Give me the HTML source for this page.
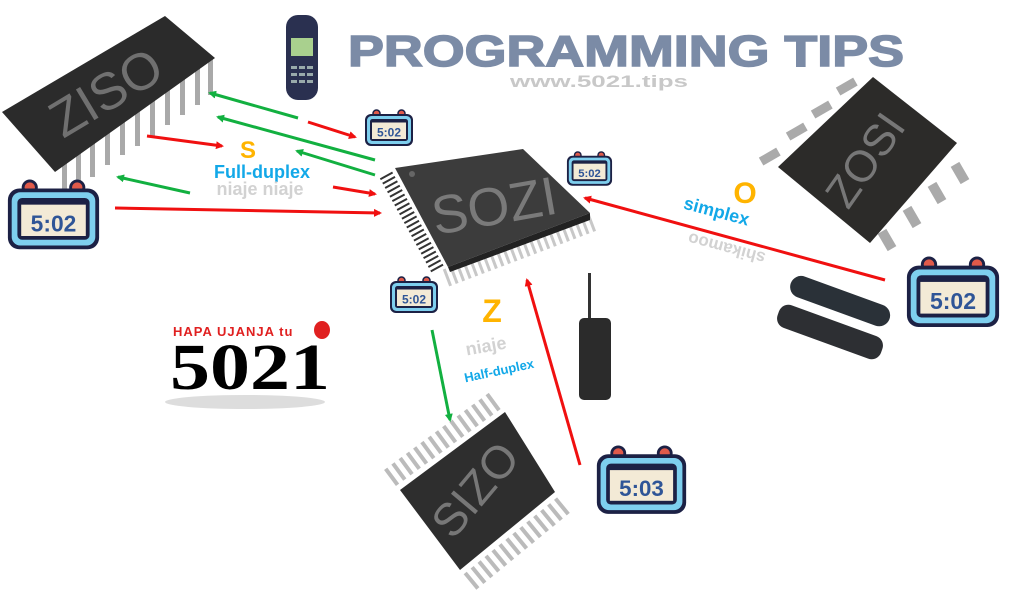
<!DOCTYPE html>
<html><head><meta charset="utf-8"><style>
html,body{margin:0;padding:0;background:#fff;}
svg{display:block;font-family:"Liberation Sans",sans-serif;}
</style></head><body>
<svg width="1024" height="615" viewBox="0 0 1024 615" xmlns="http://www.w3.org/2000/svg">
<defs>
<g id="clk">
<circle cx="25" cy="9" r="7" fill="#e05a4a" stroke="#1c2145" stroke-width="3"/>
<circle cx="75" cy="9" r="7" fill="#e05a4a" stroke="#1c2145" stroke-width="3"/>
<rect x="2" y="10" width="96" height="64" rx="12" fill="#1c2145"/>
<rect x="6" y="14" width="88" height="56" rx="9" fill="#7ecfee"/>
<rect x="12" y="20" width="76" height="44" rx="5" fill="#1c2145"/>
<rect x="16" y="27" width="68" height="33" fill="#f3ead6"/>
</g>
<marker id="ar" markerWidth="8" markerHeight="8" refX="6" refY="4" orient="auto" markerUnits="userSpaceOnUse"><path d="M0,0 L8,4 L0,8 z" fill="#f01010"/></marker>
<marker id="ag" markerWidth="8" markerHeight="8" refX="6" refY="4" orient="auto" markerUnits="userSpaceOnUse"><path d="M0,0 L8,4 L0,8 z" fill="#12b040"/></marker>
</defs>

<!-- title -->
<text x="348" y="66" font-size="44" font-weight="bold" fill="#7b8ba6" textLength="556" lengthAdjust="spacingAndGlyphs" stroke="#7b8ba6" stroke-width="1.5">PROGRAMMING TIPS</text>
<text x="510" y="87" font-size="17" font-weight="bold" fill="#c8c8c8" textLength="178" lengthAdjust="spacingAndGlyphs">www.5021.tips</text>

<!-- nokia -->
<rect x="286" y="15" width="32" height="85" rx="12" fill="#2a3050"/>
<rect x="291" y="38" width="22" height="18" fill="#a9d08e"/>
<g fill="#9aa">
<rect x="291" y="66" width="6" height="3"/><rect x="299" y="66" width="6" height="3"/><rect x="307" y="66" width="6" height="3"/>
<rect x="291" y="73" width="6" height="3"/><rect x="299" y="73" width="6" height="3"/><rect x="307" y="73" width="6" height="3"/>
<rect x="291" y="80" width="6" height="3"/><rect x="299" y="80" width="6" height="3"/><rect x="307" y="80" width="6" height="3"/>
</g>

<!-- DIP chip ZISO -->
<g fill="#a9a9a9">
<rect x="62" y="160" width="5" height="30"/><rect x="76" y="150" width="5" height="35"/><rect x="90" y="140" width="5" height="37"/>
<rect x="105" y="130" width="5" height="35"/><rect x="120" y="119" width="5" height="36"/><rect x="135" y="108" width="5" height="38"/>
<rect x="150" y="98" width="5" height="38"/><rect x="165" y="88" width="5" height="37"/><rect x="180" y="78" width="5" height="37"/>
<rect x="195" y="68" width="5" height="37"/><rect x="208" y="58" width="5" height="37"/>
</g>
<polygon points="2,112 165,16 215,58 55,172" fill="#2b2b2b"/>
<text x="108" y="96" transform="rotate(-31 108 96)" text-anchor="middle" dominant-baseline="middle" font-size="52" fill="#707070">ZISO</text>

<!-- center chip SOZI -->
<line x1="446" y1="278" x2="594" y2="222" stroke="#c8c8c8" stroke-width="18" stroke-dasharray="3 4"/>
<line x1="386" y1="175" x2="438" y2="270" stroke="#333" stroke-width="14" stroke-dasharray="2 3"/>
<polygon points="395,168 523,149 590,213 448,267" fill="#3c3c3c"/>
<polygon points="448,267 590,213 590,220 450,272" fill="#222"/>
<circle cx="412" cy="174" r="3" fill="#666"/>
<text x="495" y="210" transform="rotate(-10 495 210)" text-anchor="middle" dominant-baseline="middle" font-size="54" fill="#7a7a7a">SOZI</text>

<!-- ZOSI chip -->
<g fill="#aaa">
<rect x="760" y="152" width="20" height="9" transform="rotate(-30 770 157)"/>
<rect x="787" y="127" width="20" height="9" transform="rotate(-30 797 132)"/>
<rect x="812" y="105" width="20" height="9" transform="rotate(-30 822 110)"/>
<rect x="837" y="82" width="20" height="9" transform="rotate(-30 847 87)"/>
<rect x="955" y="163" width="10" height="20" transform="rotate(-30 960 173)"/>
<rect x="932" y="183" width="10" height="20" transform="rotate(-30 937 193)"/>
<rect x="907" y="207" width="10" height="20" transform="rotate(-30 912 217)"/>
<rect x="882" y="230" width="10" height="20" transform="rotate(-30 887 240)"/>
</g>
<polygon points="873,77 957,143 870,243 778,167" fill="#2c2b29"/>
<text x="868" y="162" transform="rotate(-55 868 162)" text-anchor="middle" dominant-baseline="middle" font-size="44" fill="#777">ZOSI</text>

<!-- remotes -->
<rect x="788" y="290" width="105" height="22" rx="11" fill="#2a3138" transform="rotate(20 840 300)"/>
<rect x="775" y="320" width="110" height="24" rx="10" fill="#2d2f33" transform="rotate(20 830 332)"/>

<!-- SIZO chip -->
<line x1="390" y1="478" x2="496" y2="400" stroke="#bbb" stroke-width="20" stroke-dasharray="4 5"/>
<line x1="470" y1="582" x2="566" y2="503" stroke="#bbb" stroke-width="20" stroke-dasharray="4 5"/>
<polygon points="505,412 555,492 460,570 400,490" fill="#2e2e2e"/>
<text x="478" y="492" transform="rotate(-50 478 492)" text-anchor="middle" dominant-baseline="middle" font-size="46" fill="#777">SIZO</text>

<!-- walkie -->
<rect x="588" y="273" width="3" height="50" fill="#333"/>
<rect x="579" y="318" width="32" height="82" rx="5" fill="#2b2b2b"/>

<!-- arrows -->
<g stroke-width="3" fill="none">
<line x1="308" y1="122" x2="355" y2="137" stroke="#f01010" marker-end="url(#ar)"/>
<line x1="147" y1="136" x2="222" y2="146" stroke="#f01010" marker-end="url(#ar)"/>
<line x1="333" y1="187" x2="375" y2="194" stroke="#f01010" marker-end="url(#ar)"/>
<line x1="115" y1="208" x2="380" y2="213" stroke="#f01010" marker-end="url(#ar)"/>
<line x1="885" y1="280" x2="585" y2="198" stroke="#f01010" marker-end="url(#ar)"/>
<line x1="580" y1="465" x2="527" y2="280" stroke="#f01010" marker-end="url(#ar)"/>
<line x1="298" y1="118" x2="210" y2="93" stroke="#12b040" marker-end="url(#ag)"/>
<line x1="375" y1="160" x2="218" y2="117" stroke="#12b040" marker-end="url(#ag)"/>
<line x1="375" y1="175" x2="297" y2="151" stroke="#12b040" marker-end="url(#ag)"/>
<line x1="190" y1="193" x2="118" y2="177" stroke="#12b040" marker-end="url(#ag)"/>
<line x1="432" y1="330" x2="450" y2="420" stroke="#12b040" marker-end="url(#ag)"/>
</g>

<!-- labels -->
<text x="248" y="158" text-anchor="middle" font-size="24" font-weight="bold" fill="#ffb400">S</text>
<text x="262" y="178" text-anchor="middle" font-size="18" font-weight="bold" fill="#12a8e8">Full-duplex</text>
<text x="260" y="195" text-anchor="middle" font-size="18" font-weight="bold" fill="#d2d2d2">niaje niaje</text>
<text x="745" y="203" text-anchor="middle" font-size="30" font-weight="bold" fill="#ffb400">O</text>
<text x="715" y="217" transform="rotate(15 715 217)" text-anchor="middle" font-size="18" font-weight="bold" fill="#12a8e8">simplex</text>
<text x="728" y="243" transform="rotate(195 728 243)" text-anchor="middle" font-size="17" font-weight="bold" fill="#d2d2d2">shikamoo</text>
<text x="492" y="322" text-anchor="middle" font-size="32" font-weight="bold" fill="#ffb400">Z</text>
<text x="487" y="352" transform="rotate(-10 487 352)" text-anchor="middle" font-size="18" font-weight="bold" fill="#d2d2d2">niaje</text>
<text x="500" y="375" transform="rotate(-12 500 375)" text-anchor="middle" font-size="13" font-weight="bold" fill="#12a8e8">Half-duplex</text>

<!-- logo -->
<ellipse cx="245" cy="402" rx="80" ry="7" fill="#ddd"/>
<text x="173" y="336" font-size="13" font-weight="bold" fill="#e02020" letter-spacing="1">HAPA UJANJA tu</text>
<ellipse cx="322" cy="330" rx="8" ry="9" fill="#e02020"/>
<text x="170" y="389" font-family="'Liberation Serif',serif" font-size="66" font-weight="bold" fill="#000" textLength="160" lengthAdjust="spacingAndGlyphs">5021</text>

<!-- clocks -->
<g transform="translate(6,179) scale(0.95)"><use href="#clk"/><text x="50" y="55" text-anchor="middle" font-size="24" font-weight="bold" fill="#2f5597">5:02</text></g>
<g transform="translate(364,109) scale(0.5)"><use href="#clk"/><text x="50" y="55" text-anchor="middle" font-size="24" font-weight="bold" fill="#2f5597">5:02</text></g>
<g transform="translate(566,151) scale(0.47)"><use href="#clk"/><text x="50" y="55" text-anchor="middle" font-size="24" font-weight="bold" fill="#2f5597">5:02</text></g>
<g transform="translate(389,276) scale(0.5)"><use href="#clk"/><text x="50" y="55" text-anchor="middle" font-size="24" font-weight="bold" fill="#2f5597">5:02</text></g>
<g transform="translate(905,256) scale(0.96)"><use href="#clk"/><text x="50" y="55" text-anchor="middle" font-size="24" font-weight="bold" fill="#2f5597">5:02</text></g>
<g transform="translate(595,445) scale(0.93)"><use href="#clk"/><text x="50" y="55" text-anchor="middle" font-size="24" font-weight="bold" fill="#2f5597">5:03</text></g>
</svg>
</body></html>
